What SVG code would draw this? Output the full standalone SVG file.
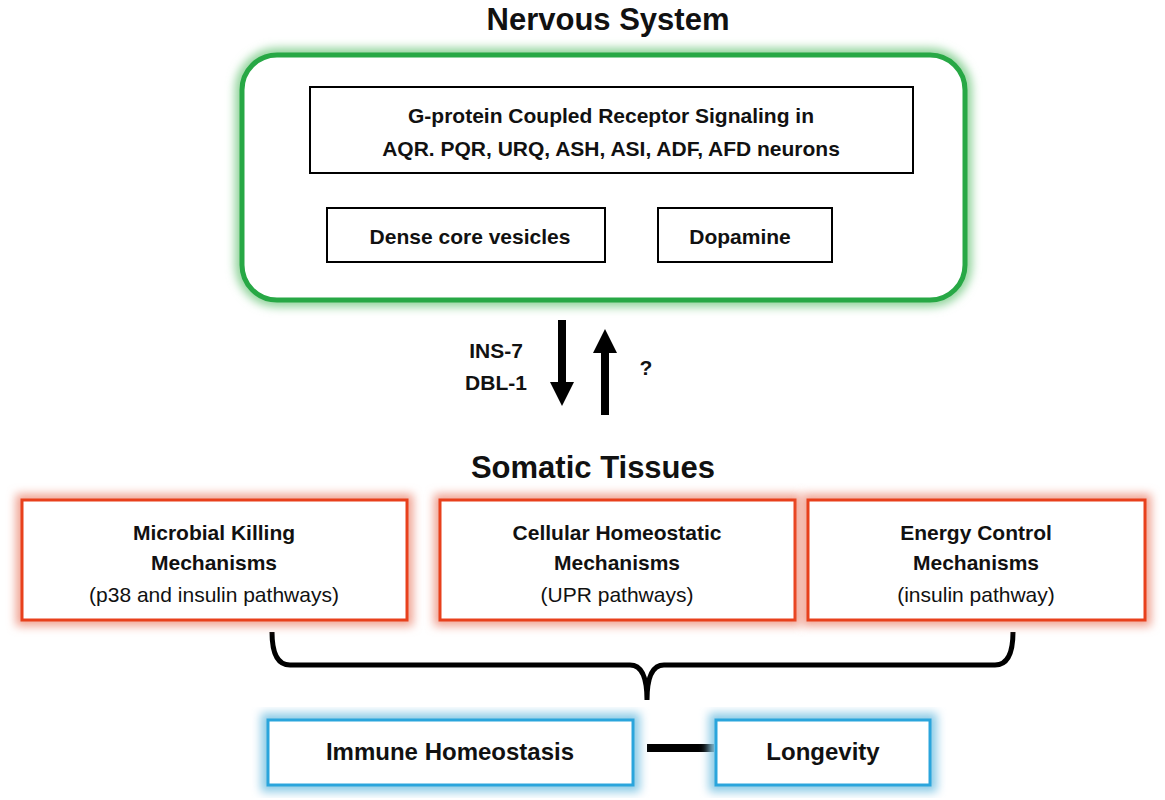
<svg xmlns="http://www.w3.org/2000/svg" width="1165" height="800" viewBox="0 0 1165 800">
<style>
text{font-family:"Liberation Sans",Arial,sans-serif;fill:#111;text-anchor:middle}
.t{font-size:31px;font-weight:bold}
.b{font-size:21px;font-weight:bold}
.n{font-size:21px}
.box{fill:#fff;stroke:#000;stroke-width:2}
</style>
<defs>
<filter id="glow" x="-10%" y="-20%" width="120%" height="140%"><feGaussianBlur stdDeviation="5"/></filter>
<marker id="ah" markerWidth="3" markerHeight="3" refX="1.5" refY="1.5" orient="auto" markerUnits="strokeWidth"><path d="M0,0L3,1.5L0,3z" fill="#000"/></marker>
</defs>
<rect width="1165" height="800" fill="#fff"/>
<text class="t" x="608" y="30">Nervous System</text>
<g id="nervous">
<rect x="242" y="55" width="723" height="245" rx="35" fill="none" stroke="#8fd39a" stroke-width="14" filter="url(#glow)"/>
<rect x="242" y="55" width="723" height="245" rx="35" fill="#fff" stroke="#27a845" stroke-width="5"/>
</g>
<g id="gpcr"><rect class="box" x="310" y="87" width="603" height="86"/>
<text class="b" x="611" y="123">G-protein Coupled Receptor Signaling  in</text>
<text class="b" x="611" y="156">AQR. PQR, URQ, ASH, ASI, ADF, AFD neurons</text></g>
<g id="dcv"><rect class="box" x="327" y="208" width="278" height="54"/><text class="b" x="470" y="244">Dense core vesicles</text></g>
<g id="dopamine"><rect class="box" x="658" y="208" width="174" height="54"/><text class="b" x="740" y="244">Dopamine</text></g>
<g id="connectors">
<line x1="562" y1="320" x2="562" y2="394" stroke="#000" stroke-width="8" marker-end="url(#ah)"/>
<line x1="605" y1="415" x2="605" y2="341" stroke="#000" stroke-width="8" marker-end="url(#ah)"/>
<path d="M272,632 Q272,665 290,665 L630,665 Q647,665 647,700 Q647,665 664,665 L995,665 Q1013,665 1013,632" fill="none" stroke="#000" stroke-width="5"/>
<line x1="647" y1="748" x2="714" y2="748" stroke="#000" stroke-width="8"/>
</g>
<text class="b" x="496" y="358">INS-7</text>
<text class="b" x="496" y="390">DBL-1</text>
<text class="b" x="646" y="375">?</text>
<text class="t" x="593" y="478">Somatic Tissues</text>
<g id="microbial">
<rect x="22" y="500" width="385" height="120" fill="none" stroke="#f0a090" stroke-width="12" filter="url(#glow)"/>
<rect x="22" y="500" width="385" height="120" fill="#fff" stroke="#e8401c" stroke-width="3"/>
<text class="b" x="214" y="540">Microbial Killing</text><text class="b" x="214" y="570">Mechanisms</text><text class="n" x="214" y="602">(p38 and insulin pathways)</text></g>
<g id="cellular">
<rect x="440" y="500" width="355" height="120" fill="none" stroke="#f0a090" stroke-width="12" filter="url(#glow)"/>
<rect x="440" y="500" width="355" height="120" fill="#fff" stroke="#e8401c" stroke-width="3"/>
<text class="b" x="617" y="540">Cellular Homeostatic</text><text class="b" x="617" y="570">Mechanisms</text><text class="n" x="617" y="602">(UPR pathways)</text></g>
<g id="energy">
<rect x="808" y="500" width="337" height="120" fill="none" stroke="#f0a090" stroke-width="12" filter="url(#glow)"/>
<rect x="808" y="500" width="337" height="120" fill="#fff" stroke="#e8401c" stroke-width="3"/>
<text class="b" x="976" y="540">Energy Control</text><text class="b" x="976" y="570">Mechanisms</text><text class="n" x="976" y="602">(insulin pathway)</text></g>
<g id="immune">
<rect x="268" y="720" width="365" height="65" fill="none" stroke="#8ccbe6" stroke-width="14" filter="url(#glow)"/>
<rect x="268" y="720" width="365" height="65" fill="#fff" stroke="#2aa5dc" stroke-width="3"/>
<text class="b" x="450" y="760" style="font-size:24px">Immune Homeostasis</text></g>
<g id="longevity">
<rect x="716" y="720" width="214" height="65" fill="none" stroke="#8ccbe6" stroke-width="14" filter="url(#glow)"/>
<rect x="716" y="720" width="214" height="65" fill="#fff" stroke="#2aa5dc" stroke-width="3"/>
<text class="b" x="823" y="760" style="font-size:24px">Longevity</text></g>
</svg>
